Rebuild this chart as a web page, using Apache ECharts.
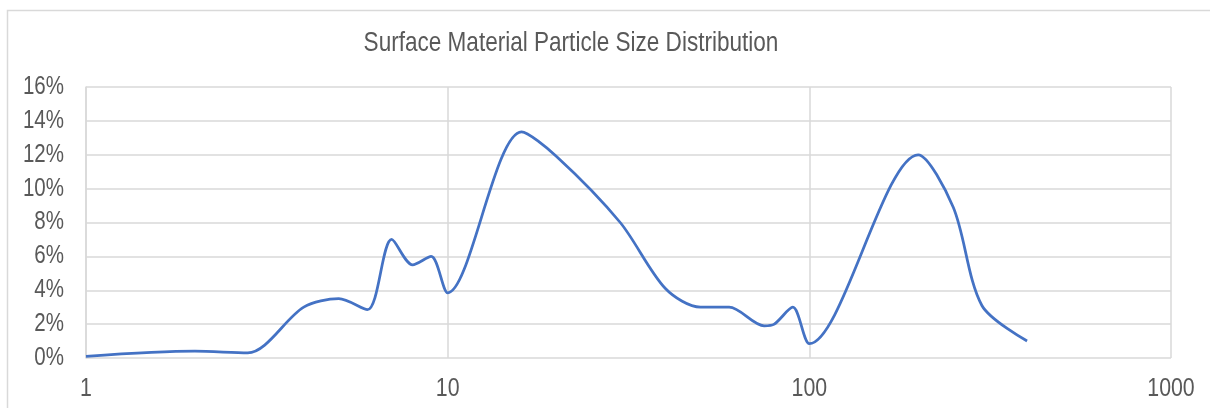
<!DOCTYPE html>
<html>
<head>
<meta charset="utf-8">
<script src="https://cdn.jsdelivr.net/npm/echarts@6/dist/echarts.min.js"></script>
<style>
  html, body { margin: 0; padding: 0; background: #fff; }
  #chart { width: 1210px; height: 408px; }
</style>
</head>
<body>
<div id="chart"></div>
<script>
// Data (particle size in mm, percent retained)
const titleText = 'Surface Material Particle Size Distribution';
const particleSizes = [1, 2, 2.8, 4, 5, 6, 7, 8, 9, 10, 16, 20, 30, 40, 50, 60, 75, 80, 90, 100, 200, 250, 300, 400];
const percentValues = [0.1, 0.4, 0.3, 3.0, 3.5, 2.85, 7.0, 5.5, 6.0, 3.85, 13.35, 11.9, 8.0, 4.1, 3.0, 3.0, 1.9, 2.0, 3.0, 0.85, 12.0, 8.9, 3.1, 1.0];
const yTicks = [0, 2, 4, 6, 8, 10, 12, 14, 16];
const yTickLabels = ['0%', '2%', '4%', '6%', '8%', '10%', '12%', '14%', '16%'];
const xTicks = [1, 10, 100, 1000];
const xTickLabels = ['1', '10', '100', '1000'];

const fontFam = '"Liberation Sans", Arial, sans-serif';
const textColor = '#595959';
const squeeze = 0.82; // narrow-font look
const chart = echarts.init(document.getElementById('chart'));
const seriesData = particleSizes.map((s, i) => [s, percentValues[i]]);

chart.setOption({
  animation: false,
  backgroundColor: '#fff',
  grid: { left: 86, right: 39, top: 87, bottom: 50, containLabel: false, outerBoundsMode: 'none' },
  xAxis: {
    type: 'log',
    logBase: 10,
    min: xTicks[0],
    max: xTicks[xTicks.length - 1],
    axisLine: { show: false },
    axisTick: { show: false },
    splitLine: { show: true, lineStyle: { color: '#d9d9d9', width: 1.5 } },
    axisLabel: { show: false }
  },
  yAxis: {
    type: 'value',
    min: yTicks[0],
    max: yTicks[yTicks.length - 1],
    interval: 2,
    axisLine: { show: true, lineStyle: { color: '#d9d9d9', width: 1.5 } },
    axisTick: { show: false },
    splitLine: { show: true, lineStyle: { color: '#d9d9d9', width: 1.5 } },
    axisLabel: { show: false }
  },
  series: [{
    type: 'line',
    data: seriesData,
    smooth: 0.3,
    showSymbol: false,
    symbol: 'none',
    lineStyle: { color: '#4472C4', width: 2.75 },
    itemStyle: { color: '#4472C4' }
  }]
});

// Texts drawn with a horizontal squeeze, positioned through the axes' own scales
const graphics = [{
  id: 'frame',
  type: 'rect',
  shape: { x: 7.5, y: 10.5, width: 1230, height: 430 },
  style: { fill: 'none', stroke: '#d9d9d9', lineWidth: 1.5 },
  silent: true
}, {
  id: 'title',
  type: 'text',
  x: 571, y: 43, scaleX: squeeze,
  style: { text: titleText, x: 0, y: 0, align: 'center', verticalAlign: 'middle',
           fontFamily: fontFam, fontSize: 27.5, fill: textColor }
}];
yTicks.forEach((v, i) => {
  const py = chart.convertToPixel({ yAxisIndex: 0 }, v);
  graphics.push({
    id: 'y' + i, type: 'text', x: 64, y: py, scaleX: squeeze,
    style: { text: yTickLabels[i], x: 0, y: 0, align: 'right', verticalAlign: 'middle',
             fontFamily: fontFam, fontSize: 25, fill: textColor }
  });
});
xTicks.forEach((v, i) => {
  const px = chart.convertToPixel({ xAxisIndex: 0 }, v);
  graphics.push({
    id: 'x' + i, type: 'text', x: px, y: 389, scaleX: squeeze,
    style: { text: xTickLabels[i], x: 0, y: 0, align: 'center', verticalAlign: 'middle',
             fontFamily: fontFam, fontSize: 26, fill: textColor }
  });
});
chart.setOption({ graphic: graphics });
</script>
</body>
</html>
